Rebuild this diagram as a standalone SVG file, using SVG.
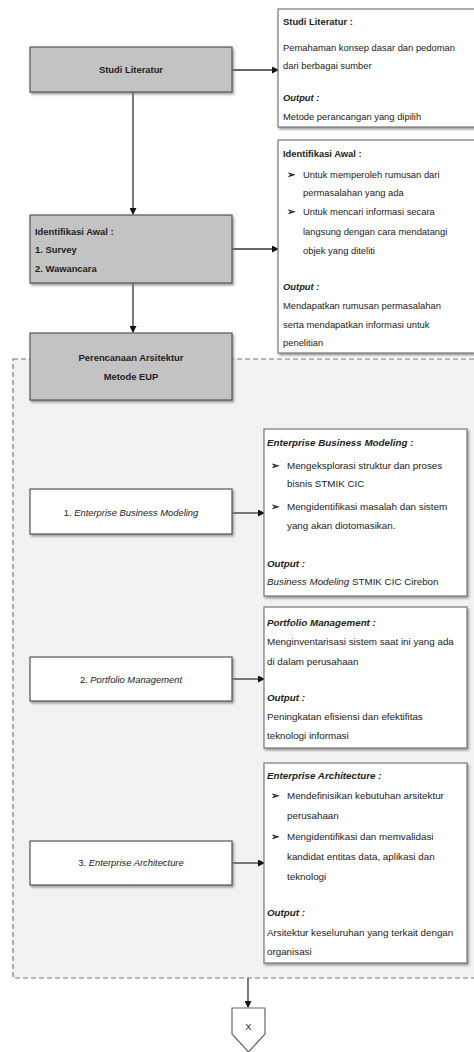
<svg xmlns="http://www.w3.org/2000/svg" width="474" height="1052" viewBox="0 0 474 1052">
<style>
text{font-family:"Liberation Sans",Arial,sans-serif;font-size:9.4px;fill:#222}
.lw text{font-size:9.8px}
.b{font-weight:bold}
.i{font-style:italic}
.bi{font-weight:bold;font-style:italic}
.mid{text-anchor:middle}
.bul{font-size:10px;font-weight:bold}
.main{fill:#c3c3c3;stroke:#555;stroke-width:1.2}
.sub{fill:#fff;stroke:#555;stroke-width:1.2}
.note{fill:#fff;stroke:#777;stroke-width:1.2}
.conn{stroke:#333;stroke-width:1.3;fill:none}
</style>
<defs>
<filter id="sh" x="-5%" y="-5%" width="115%" height="120%">
<feDropShadow dx="1.5" dy="2" stdDeviation="0.8" flood-color="#777" flood-opacity="0.7"/>
</filter>
<marker id="ah" markerWidth="7" markerHeight="7" refX="6" refY="3.5" orient="auto" markerUnits="userSpaceOnUse">
<path d="M0,0 L7,3.5 L0,7 Z" fill="#111"/>
</marker>
</defs>
<rect width="474" height="1052" fill="#fff"/>

<g id="container">
<rect x="13" y="359" width="470" height="619" fill="#f2f2f2" stroke="#777" stroke-width="1.2" stroke-dasharray="5,3"/>
</g>

<g id="connectors">
<line class="conn" x1="232" y1="70" x2="278" y2="70" marker-end="url(#ah)"/>
<line class="conn" x1="133" y1="92" x2="133" y2="214" marker-end="url(#ah)"/>
<line class="conn" x1="232" y1="249" x2="278" y2="249" marker-end="url(#ah)"/>
<line class="conn" x1="133" y1="283" x2="133" y2="332" marker-end="url(#ah)"/>
<line class="conn" x1="232" y1="513" x2="264" y2="513" marker-end="url(#ah)"/>
<line class="conn" x1="232" y1="679" x2="264" y2="679" marker-end="url(#ah)"/>
<line class="conn" x1="232" y1="863" x2="264" y2="863" marker-end="url(#ah)"/>
<line class="conn" x1="248" y1="978" x2="248" y2="1007" marker-end="url(#ah)"/>
</g>

<g id="studi-literatur">
<rect class="main" x="30" y="47" width="202" height="45" filter="url(#sh)"/>
<text class="b mid" x="131" y="73">Studi Literatur</text>
</g>

<g id="note-studi">
<rect class="note" x="278" y="9" width="200" height="118" filter="url(#sh)"/>
<text class="b" x="283" y="25">Studi Literatur :</text>
<text x="283" y="51">Pemahaman konsep dasar dan pedoman</text>
<text x="283" y="69">dari berbagai sumber</text>
<text class="bi" x="283" y="101">Output :</text>
<text x="283" y="120">Metode perancangan yang dipilih</text>
</g>

<g id="identifikasi">
<rect class="main" x="30" y="215" width="202" height="68" filter="url(#sh)"/>
<text class="b" x="35" y="235">Identifikasi Awal :</text>
<text class="b" x="35" y="253">1.  Survey</text>
<text class="b" x="35" y="272">2.  Wawancara</text>
</g>

<g id="note-identifikasi">
<rect class="note" x="278" y="140" width="200" height="213" filter="url(#sh)"/>
<text class="b" x="283" y="157">Identifikasi Awal :</text>
<text class="bul" x="287" y="178">➢</text>
<text x="303" y="178">Untuk memperoleh rumusan dari</text>
<text x="303" y="196">permasalahan yang ada</text>
<text class="bul" x="287" y="215">➢</text>
<text x="303" y="215">Untuk mencari informasi secara</text>
<text x="303" y="235">langsung dengan cara mendatangi</text>
<text x="303" y="254">objek yang diteliti</text>
<text class="bi" x="283" y="290">Output :</text>
<text x="283" y="309">Mendapatkan rumusan permasalahan</text>
<text x="283" y="328">serta mendapatkan informasi untuk</text>
<text x="283" y="346">penelitian</text>
</g>

<g id="perencanaan">
<rect class="main" x="30" y="333" width="202" height="67" filter="url(#sh)"/>
<text class="b mid" x="131" y="361">Perencanaan Arsitektur</text>
<text class="b mid" x="131" y="380">Metode EUP</text>
</g>

<g id="ebm">
<rect class="sub" x="30" y="489" width="202" height="45" filter="url(#sh)"/>
<text class="mid" x="131" y="516">1. <tspan class="i">Enterprise Business Modeling</tspan></text>
</g>

<g id="note-ebm" class="lw">
<rect class="note" x="264" y="429" width="203" height="167" filter="url(#sh)"/>
<text class="bi" x="267" y="446">Enterprise Business Modeling :</text>
<text class="bul" x="271" y="469">➢</text>
<text x="287" y="469">Mengeksplorasi struktur dan proses</text>
<text x="287" y="487">bisnis STMIK CIC</text>
<text class="bul" x="271" y="510">➢</text>
<text x="287" y="510">Mengidentifikasi masalah dan sistem</text>
<text x="287" y="529">yang akan diotomasikan.</text>
<text class="bi" x="267" y="567">Output :</text>
<text x="267" y="585"><tspan class="i">Business Modeling</tspan> STMIK CIC Cirebon</text>
</g>

<g id="pm">
<rect class="sub" x="30" y="657" width="202" height="44" filter="url(#sh)"/>
<text class="mid" x="131" y="683">2. <tspan class="i">Portfolio Management</tspan></text>
</g>

<g id="note-pm" class="lw">
<rect class="note" x="264" y="607" width="203" height="141" filter="url(#sh)"/>
<text class="bi" x="267" y="626">Portfolio Management :</text>
<text x="267" y="645">Menginventarisasi sistem saat ini yang ada</text>
<text x="267" y="665">di dalam perusahaan</text>
<text class="bi" x="267" y="701">Output :</text>
<text x="267" y="720">Peningkatan efisiensi dan efektifitas</text>
<text x="267" y="739">teknologi informasi</text>
</g>

<g id="ea">
<rect class="sub" x="30" y="841" width="202" height="44" filter="url(#sh)"/>
<text class="mid" x="131" y="866">3. <tspan class="i">Enterprise Architecture</tspan></text>
</g>

<g id="note-ea" class="lw">
<rect class="note" x="264" y="763" width="203" height="200" filter="url(#sh)"/>
<text class="bi" x="267" y="779">Enterprise Architecture :</text>
<text class="bul" x="271" y="799">➢</text>
<text x="287" y="799">Mendefinisikan kebutuhan arsitektur</text>
<text x="287" y="819">perusahaan</text>
<text class="bul" x="271" y="840">➢</text>
<text x="287" y="840">Mengidentifikasi dan memvalidasi</text>
<text x="287" y="860">kandidat entitas data, aplikasi dan</text>
<text x="287" y="880">teknologi</text>
<text class="bi" x="267" y="916">Output :</text>
<text x="267" y="936">Arsitektur keseluruhan yang terkait dengan</text>
<text x="267" y="955">organisasi</text>
</g>

<g id="offpage-x">
<path d="M232,1008 L265,1008 L265,1034 L248.5,1052 L232,1034 Z" fill="#fff" stroke="#666" stroke-width="1.2"/>
<text class="mid" x="248.5" y="1030">X</text>
</g>
</svg>
